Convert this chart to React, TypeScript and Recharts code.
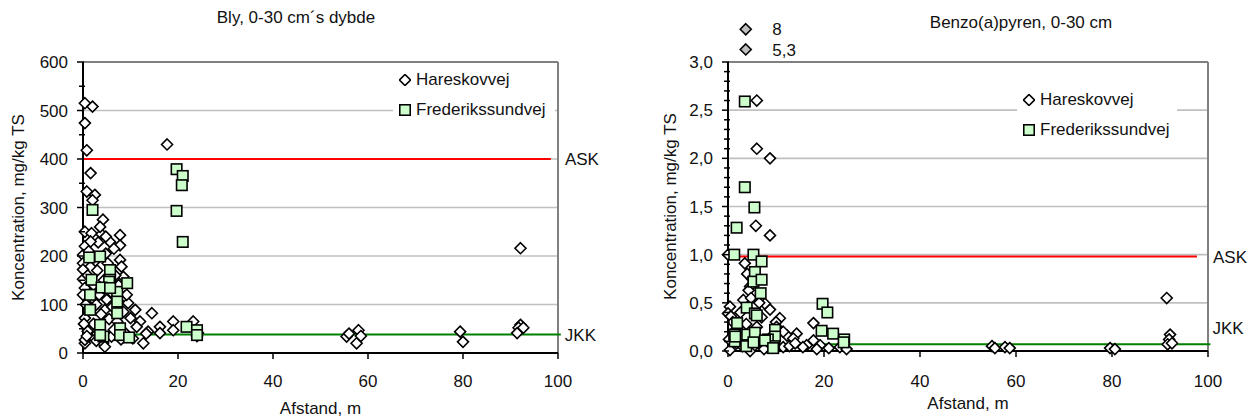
import { CartesianGrid, Legend, ReferenceDot, ReferenceLine, Scatter, ScatterChart, XAxis, YAxis } from "recharts";

const FONT = '"Liberation Sans", Arial, sans-serif';
const FS = 17;

// Bly (lead), 0-30 cm: [afstand m, mg/kg TS]
const blyHareskovvej: [number, number][] = [
  [0.4, 515], [2, 508], [0.4, 474], [0.8, 418], [17.7, 430], [1.6, 371], [0.8, 333], [2.5, 326], [2, 315],
  [4.2, 275], [0.4, 250], [1.8, 247], [3.9, 245], [3.2, 228], [7.8, 243], [7.8, 222], [0.4, 220], [5.7, 229],
  [0, 202], [7.8, 192], [8.1, 178], [0, 185], [0, 172], [8.5, 157], [0, 152], [0.4, 134], [0, 120], [8.8, 116],
  [9.5, 103], [11, 89], [4.6, 89], [0.4, 72], [14.5, 82], [12, 65], [10, 72], [16.2, 54], [19, 65], [19, 47],
  [23.2, 65], [24.2, 41], [24, 35], [0.4, 20], [12.7, 20], [6, 34], [4.2, 20], [13.7, 44], [11.3, 54], [13.3, 40],
  [4.6, 13], [0.4, 27], [16.2, 41], [1.2, 210], [2.6, 190], [3, 170], [1, 160], [2.2, 140], [4.8, 205], [5.2, 185],
  [6.5, 215], [6.8, 160], [4.4, 150], [3.4, 120], [5, 110], [6.2, 95], [2.8, 100], [1.5, 95], [3.8, 80], [5.5, 70],
  [7.2, 65], [8.5, 85], [2.2, 60], [1, 45], [3, 40], [6.5, 48], [9, 40], [10.5, 30], [8, 28], [2.8, 25], [1.6, 230],
  [3.6, 260], [4.8, 240], [6, 125], [7.5, 140], [9.2, 120], [0.6, 100], [0.2, 60], [0.8, 35],
  [55.5, 34], [56, 40], [58, 47], [57.6, 20], [58.5, 35], [79.4, 44], [80, 23],
  [92.1, 216], [92.1, 58], [91.7, 52], [91.4, 41], [92.7, 52],
];

const blyFrederikssundvej: [number, number][] = [
  [19.7, 379], [21, 365], [20.8, 346], [19.7, 293], [2, 295], [21, 229], [1.3, 197], [3.6, 199], [5.7, 171],
  [5.7, 151], [1.8, 151], [5.5, 147], [3.9, 135], [1.5, 120], [7.2, 126], [9.3, 144], [7.2, 106], [1.5, 89],
  [7.2, 82], [3.6, 58], [7.8, 51], [4.3, 34], [7.8, 37], [9.7, 32], [21.8, 54], [24, 47], [24, 37], [5.7, 134],
  [3.6, 37],
];

// Benzo(a)pyren, 0-30 cm: [afstand m, mg/kg TS]
const bapHareskovvej: [number, number][] = [
  [6, 2.6], [6, 2.1], [8.75, 2.0], [5.8, 1.3], [8.75, 1.2], [0, 1.0], [3.5, 0.91], [4.6, 0.67], [4.3, 0.63],
  [7.7, 0.49], [8.75, 0.43], [0.4, 0.46], [3.2, 0.53], [10.8, 0.34], [10, 0.3], [0, 0.39], [0.6, 0.36],
  [17.8, 0.29], [14.3, 0.18], [12.3, 0.16], [13.6, 0.13], [16.4, 0.06], [19.2, 0.06], [17.8, 0.11], [0.4, 0.01],
  [4.6, 0], [1.8, 0.08], [5.6, 0.06], [23.3, 0.04], [24.7, 0.02], [8, 0.04], [11.5, 0.04], [15.6, 0.04],
  [11.5, 0.2], [10.1, 0.25], [1, 0.3], [2, 0.25], [2.5, 0.15], [3, 0.05], [4, 0.8], [5, 0.75], [4.8, 0.55],
  [6.5, 0.5], [7, 0.35], [6, 0.25], [9, 0.15], [1.2, 0.2], [0.2, 0.12], [3.8, 0.28], [2.6, 0.4], [7.5, 0.02],
  [9.5, 0.08], [12.8, 0.05], [18.5, 0.02], [21, 0.03], [14, 0.08],
  [55, 0.05], [55.6, 0.03], [57.7, 0.04], [58.7, 0.03], [79.6, 0.03], [80.6, 0.02],
  [91.4, 0.55], [92.1, 0.17], [91.9, 0.12], [91.6, 0.07], [92.5, 0.08],
];

const bapFrederikssundvej: [number, number][] = [
  [3.5, 2.59], [3.5, 1.7], [5.5, 1.49], [1.8, 1.28], [1.3, 1.0], [5.3, 1.0], [7, 0.93], [5.6, 0.82], [5.3, 0.72],
  [7, 0.74], [6.8, 0.6], [3.9, 0.45], [5.6, 0.39], [19.7, 0.49], [20.7, 0.4], [1.9, 0.29], [19.5, 0.21],
  [21.9, 0.18], [24.2, 0.12], [24.1, 0.09], [1.3, 0.17], [4, 0.17], [5.6, 0.19], [9.8, 0.22], [9.8, 0.15],
  [8.3, 0.12], [9.6, 0.05], [1.4, 0.1], [3.8, 0.05], [5.3, 0.09], [1.5, 0.15], [6, 0.37], [7.7, 0.11], [9.4, 0.03],
];

// off-scale values drawn above the benzo(a)pyren plot
const bapOutliers = [
  { x: 3.7, y: 3.34, label: "8" },
  { x: 3.7, y: 3.13, label: "5,3" },
];

const seriesOrder = ["Hareskovvej", "Frederikssundvej"];
const xTicks = [0, 20, 40, 60, 80, 100];
const blyYTicks = [0, 50, 100, 150, 200, 250, 300, 350, 400, 450, 500, 550, 600];
const blyGrid = [100, 200, 300, 400, 500];
const bapYTicks = [
  0, 0.1, 0.2, 0.3, 0.4, 0.5, 0.6, 0.7, 0.8, 0.9, 1.0, 1.1, 1.2, 1.3, 1.4, 1.5,
  1.6, 1.7, 1.8, 1.9, 2.0, 2.1, 2.2, 2.3, 2.4, 2.5, 2.6, 2.7, 2.8, 2.9, 3.0,
];
const bapGrid = [0.5, 1.0, 1.5, 2.0, 2.5];

const BLY_ASK = 400;
const BLY_JKK = 38;
const BAP_ASK = 0.98;
const BAP_JKK = 0.07;

const toRows = (pts: [number, number][]) => pts.map(([x, y]) => ({ x, y }));

function Diamond(props: any) {
  const { cx, cy, fill = "#ffffff" } = props;
  const r = 5.5;
  return (
    <path
      d={`M${cx},${cy - r}L${cx + r},${cy}L${cx},${cy + r}L${cx - r},${cy}Z`}
      fill={fill}
      stroke="#000"
      strokeWidth={1.6}
    />
  );
}

function Square(props: any) {
  const { cx, cy } = props;
  const s = 10.5;
  return <rect x={cx - s / 2} y={cy - s / 2} width={s} height={s} fill="#ccffcc" stroke="#000" strokeWidth={1.6} />;
}

const TICK_SIZE = 6;
const TICK_MARGIN = 9;

function makeYTick(isMajor: (v: number) => boolean, fmt: (v: number) => string) {
  return (props: any) => {
    const { x, y, payload } = props;
    const v = Number(payload.value);
    const axisX = x + TICK_SIZE + TICK_MARGIN;
    const major = isMajor(v);
    return (
      <g>
        <line
          x1={axisX - (major ? 6 : 4)}
          x2={axisX + (major ? 1 : 2)}
          y1={y}
          y2={y}
          stroke="#000"
          strokeWidth={1.5}
        />
        {major && (
          <text x={x} y={y} dy="0.355em" textAnchor="end" fontSize={FS} fill="#111" fontFamily={FONT}>
            {fmt(v)}
          </text>
        )}
      </g>
    );
  };
}

const blyTick = makeYTick((v) => v % 100 === 0, (v) => String(v));
const bapTick = makeYTick(
  (v) => Math.round(v * 10) % 5 === 0,
  (v) => v.toFixed(1).replace(".", ","),
);

function LegendContent(props: any) {
  const payload = [...(props.payload ?? [])].sort(
    (a: any, b: any) => seriesOrder.indexOf(a.value) - seriesOrder.indexOf(b.value),
  );
  return (
    <div style={{ background: "#fff", padding: "0 6px", fontFamily: FONT, fontSize: FS, color: "#111" }}>
      {payload.map((entry: any) => (
        <div key={entry.value} style={{ height: 30, display: "flex", alignItems: "center" }}>
          <svg width={12} height={12} style={{ marginRight: 5 }}>
            {entry.value === "Hareskovvej" ? <Diamond cx={6} cy={6} /> : <Square cx={6} cy={6} />}
          </svg>
          <span>{entry.value}</span>
        </div>
      ))}
    </div>
  );
}

const labelStyle = { fontSize: FS, fill: "#111", fontFamily: FONT };

function BlyChart() {
  return (
    <ScatterChart width={640} height={419} margin={{ top: 62, right: 82, bottom: 0, left: 0 }}>
      <CartesianGrid vertical={false} horizontalValues={blyGrid} stroke="#c0c0c0" strokeWidth={1.6} />
      <XAxis
        type="number"
        dataKey="x"
        domain={[0, 100]}
        ticks={xTicks}
        height={66}
        tickSize={6}
        tickMargin={16}
        axisLine={{ stroke: "#000", strokeWidth: 2 }}
        tickLine={{ stroke: "#000", strokeWidth: 1.5 }}
        tick={{ ...labelStyle }}
        label={{ value: "Afstand, m", position: "insideBottom", offset: 5, ...labelStyle }}
      />
      <YAxis
        type="number"
        dataKey="y"
        domain={[0, 600]}
        ticks={blyYTicks}
        width={83}
        tickSize={TICK_SIZE}
        tickMargin={TICK_MARGIN}
        tickLine={false}
        axisLine={{ stroke: "#000", strokeWidth: 2 }}
        tick={blyTick}
        interval={0}
        label={{
          value: "Koncentration, mg/kg TS",
          angle: -90,
          position: "insideLeft",
          offset: 18,
          style: { textAnchor: "middle" },
          ...labelStyle,
        }}
      />
      <ReferenceLine y={600} stroke="#808080" strokeWidth={2} />
      <ReferenceLine x={100} stroke="#808080" strokeWidth={2} />
      <Legend
        layout="vertical"
        align="center"
        verticalAlign="middle"
        itemSorter={null}
        content={<LegendContent />}
        wrapperStyle={{ left: 393, top: 65, width: 162 }}
      />
      <Scatter name="Hareskovvej" data={toRows(blyHareskovvej)} shape={<Diamond />} isAnimationActive={false} />
      <Scatter name="Frederikssundvej" data={toRows(blyFrederikssundvej)} shape={<Square />} isAnimationActive={false} />
      <ReferenceLine
        segment={[{ x: 0, y: BLY_ASK }, { x: 98.5, y: BLY_ASK }]}
        stroke="#ff0000"
        strokeWidth={2}
        label={{ value: "ASK", position: "right", offset: 14, ...labelStyle }}
      />
      <ReferenceLine
        segment={[{ x: 0, y: BLY_JKK }, { x: 100.6, y: BLY_JKK }]}
        stroke="#008000"
        strokeWidth={2}
        ifOverflow="visible"
        label={{ value: "JKK", position: "right", offset: 4, ...labelStyle }}
      />
    </ScatterChart>
  );
}

function BapChart() {
  return (
    <ScatterChart width={616} height={419} margin={{ top: 62, right: 48, bottom: 0, left: 0 }}>
      <CartesianGrid vertical={false} horizontalValues={bapGrid} stroke="#c0c0c0" strokeWidth={1.6} />
      <XAxis
        type="number"
        dataKey="x"
        domain={[0, 100]}
        ticks={xTicks}
        height={68}
        tickSize={6}
        tickMargin={18}
        axisLine={{ stroke: "#000", strokeWidth: 2 }}
        tickLine={{ stroke: "#000", strokeWidth: 1.5 }}
        tick={{ ...labelStyle }}
        label={{ value: "Afstand, m", position: "insideBottom", offset: 10, ...labelStyle }}
      />
      <YAxis
        type="number"
        dataKey="y"
        domain={[0, 3]}
        ticks={bapYTicks}
        width={88}
        tickSize={TICK_SIZE}
        tickMargin={TICK_MARGIN}
        tickLine={false}
        axisLine={{ stroke: "#000", strokeWidth: 2 }}
        tick={bapTick}
        interval={0}
        label={{
          value: "Koncentration, mg/kg TS",
          angle: -90,
          position: "insideLeft",
          offset: 30,
          style: { textAnchor: "middle" },
          ...labelStyle,
        }}
      />
      <ReferenceLine y={3} stroke="#808080" strokeWidth={2} />
      <ReferenceLine x={100} stroke="#808080" strokeWidth={2} />
      <Legend
        layout="vertical"
        align="center"
        verticalAlign="middle"
        itemSorter={null}
        content={<LegendContent />}
        wrapperStyle={{ left: 1017 - 640, top: 85, width: 160 }}
      />
      <Scatter name="Hareskovvej" data={toRows(bapHareskovvej)} shape={<Diamond />} isAnimationActive={false} />
      <Scatter name="Frederikssundvej" data={toRows(bapFrederikssundvej)} shape={<Square />} isAnimationActive={false} />
      <ReferenceLine
        segment={[{ x: 0.8, y: BAP_ASK }, { x: 97.7, y: BAP_ASK }]}
        stroke="#ff0000"
        strokeWidth={2}
        label={{ value: "ASK", position: "right", offset: 16, ...labelStyle }}
      />
      <ReferenceLine
        segment={[{ x: 0.5, y: BAP_JKK }, { x: 100.5, y: BAP_JKK }]}
        stroke="#008000"
        strokeWidth={2}
        ifOverflow="visible"
        label={{ value: "JKK", position: "right", offset: 2, dy: -16, ...labelStyle }}
      />
      {bapOutliers.map((o) => (
        <ReferenceDot
          key={o.label}
          x={o.x}
          y={o.y}
          r={5.5}
          ifOverflow="visible"
          shape={(p: any) => <Diamond cx={p.cx} cy={p.cy} fill="#c0c0c0" />}
          label={{ value: o.label, position: "right", offset: 21, ...labelStyle }}
        />
      ))}
    </ScatterChart>
  );
}

export default function App() {
  return (
    <div style={{ position: "absolute", left: 0, top: 0, width: 1256, height: 419, background: "#fff", fontFamily: FONT }}>
      <div style={{ position: "absolute", left: 0, top: 0 }}>
        <BlyChart />
      </div>
      <div style={{ position: "absolute", left: 640, top: 0 }}>
        <BapChart />
      </div>
      <div style={{ position: "absolute", left: 96, width: 400, top: 8, textAlign: "center", fontSize: FS, lineHeight: "20px", color: "#111" }}>
        Bly, 0-30 cm´s dybde
      </div>
      <div style={{ position: "absolute", left: 821, width: 400, top: 13, textAlign: "center", fontSize: FS, lineHeight: "20px", color: "#111" }}>
        Benzo(a)pyren, 0-30 cm
      </div>
    </div>
  );
}
